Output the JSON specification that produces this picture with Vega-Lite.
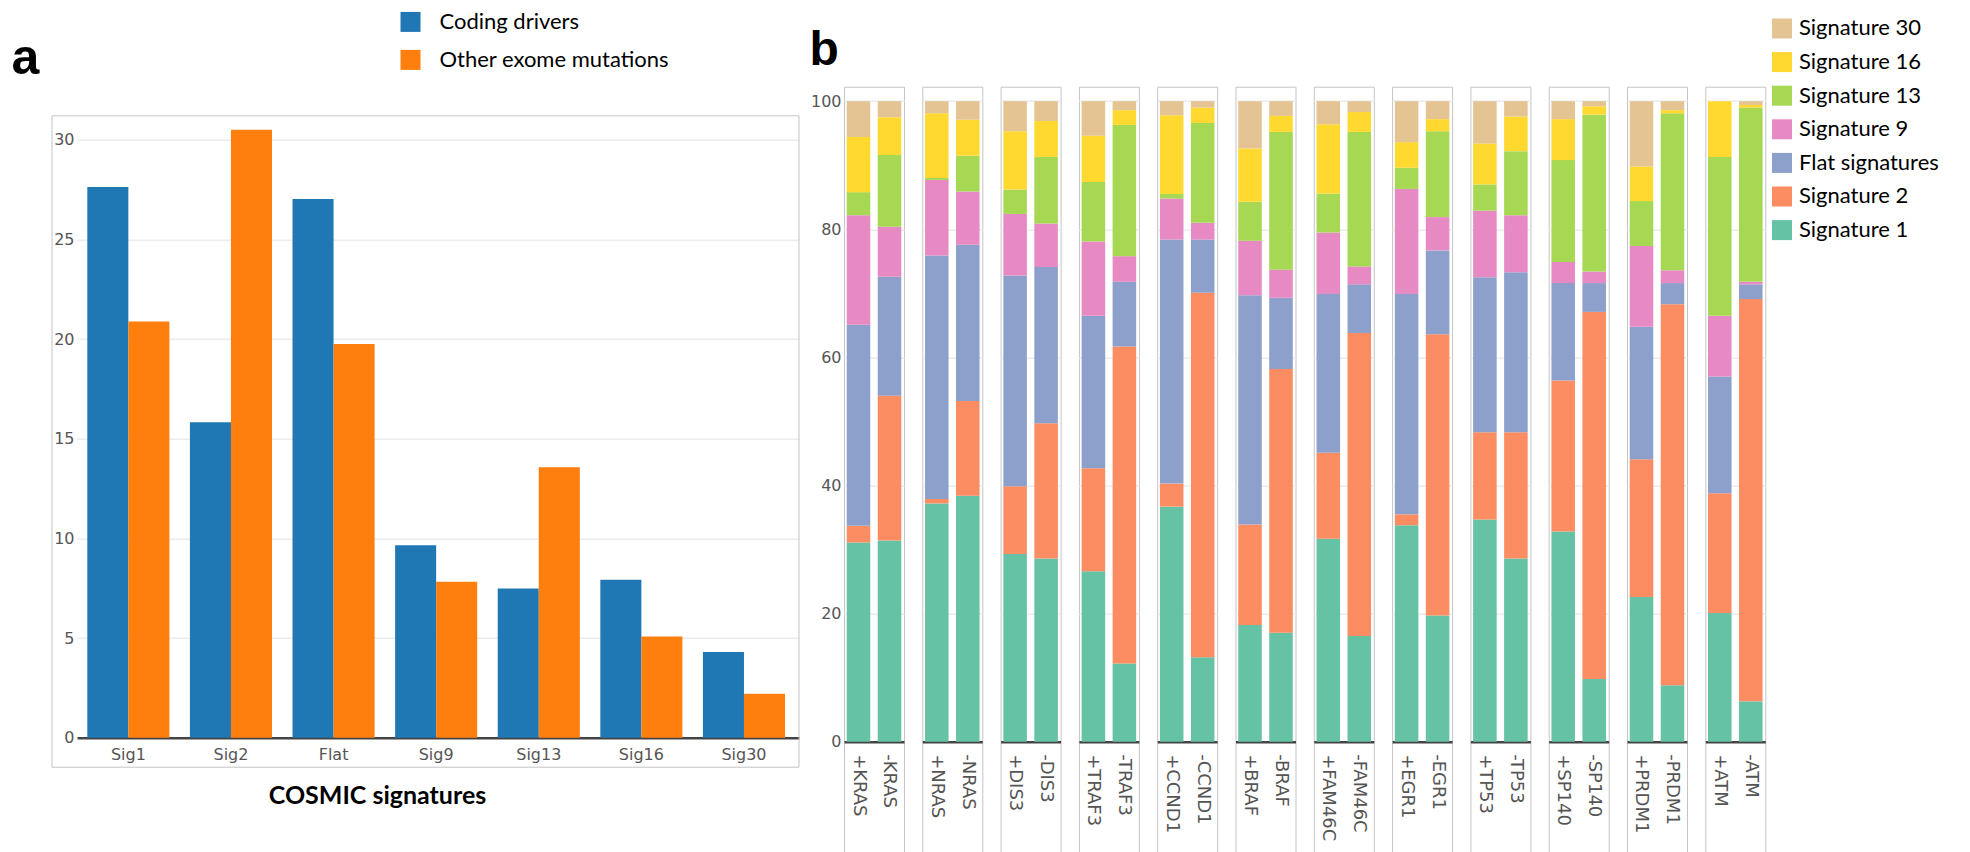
{
  "$schema": "https://vega.github.io/schema/vega-lite/v6.json",
  "background": "white",
  "padding": {"left": 11, "top": 10.7, "right": 0, "bottom": 0},
  "spacing": 9,
  "config": {
    "view": {"stroke": "#c4c4c4", "strokeWidth": 1},
    "axis": {"labelFont": "DejaVu Sans", "labelFontSize": 16, "labelColor": "#555", "gridColor": "#ececec", "gridWidth": 1.5},
    "legend": {"labelFont": "Lato", "labelFontSize": 22, "labelColor": "#000", "symbolType": "square", "symbolSize": 400, "symbolStrokeWidth": 0, "symbolOpacity": 1, "padding": 0, "labelLimit": 400}
  },
  "resolve": {"scale": {"color": "independent"}, "legend": {"color": "independent"}},
  "hconcat": [
    {
      "width": 747,
      "height": 680.5,
      "view": {"stroke": null},
      "layer": [
        {
          "data": {"values": [
            {"sig": "Sig1", "grp": "Coding drivers", "v": 27.63},
            {"sig": "Sig1", "grp": "Other exome mutations", "v": 20.88},
            {"sig": "Sig2", "grp": "Coding drivers", "v": 15.83},
            {"sig": "Sig2", "grp": "Other exome mutations", "v": 30.5},
            {"sig": "Flat", "grp": "Coding drivers", "v": 27.02},
            {"sig": "Flat", "grp": "Other exome mutations", "v": 19.75},
            {"sig": "Sig9", "grp": "Coding drivers", "v": 9.66},
            {"sig": "Sig9", "grp": "Other exome mutations", "v": 7.82},
            {"sig": "Sig13", "grp": "Coding drivers", "v": 7.49},
            {"sig": "Sig13", "grp": "Other exome mutations", "v": 13.57},
            {"sig": "Sig16", "grp": "Coding drivers", "v": 7.92},
            {"sig": "Sig16", "grp": "Other exome mutations", "v": 5.08},
            {"sig": "Sig30", "grp": "Coding drivers", "v": 4.30},
            {"sig": "Sig30", "grp": "Other exome mutations", "v": 2.21}
          ]},
          "mark": {"type": "bar"},
          "encoding": {
            "x": {
              "field": "sig", "type": "nominal",
              "sort": ["Sig1", "Sig2", "Flat", "Sig9", "Sig13", "Sig16", "Sig30"],
              "scale": {"range": [25, 747], "paddingInner": 0.2, "paddingOuter": 0.1184, "align": 0.424},
              "axis": {
                "title": "COSMIC signatures", "offset": -29.5, "labelAngle": 0, "ticks": false,
                "domainColor": "#444", "domainWidth": 2.5, "labelPadding": 9,
                "titleFont": "Lato", "titleFontSize": 25, "titleFontWeight": "bold", "titleColor": "#000",
                "titlePadding": 21, "titleX": 325, "titleAlign": "center"
              }
            },
            "xOffset": {"field": "grp", "type": "nominal", "sort": ["Coding drivers", "Other exome mutations"], "scale": {"paddingInner": 0, "paddingOuter": 0}},
            "y": {
              "field": "v", "type": "quantitative",
              "scale": {"domain": [-1.48, 32.66], "nice": false, "zero": true},
              "axis": {
                "values": [0, 5, 10, 15, 20, 25, 30], "offset": -24, "domain": false, "ticks": false,
                "labelPadding": 2, "grid": true,
                "title": "a", "titleAngle": 0, "titleX": -65, "titleY": -13.5, "titleAlign": "left",
                "titleBaseline": "alphabetic", "titleFont": "Liberation Sans", "titleFontSize": 50,
                "titleFontWeight": "bold", "titleColor": "#000"
              }
            },
            "color": {
              "field": "grp", "type": "nominal",
              "scale": {"domain": ["Coding drivers", "Other exome mutations"], "range": ["#1f77b4", "#ff7f0e"]},
              "legend": {"title": null, "orient": "none", "legendX": 347.5, "legendY": -75.8, "labelOffset": 18, "rowPadding": 16}
            }
          }
        },
        {
          "data": {"values": [{}]},
          "mark": {"type": "rect", "filled": false, "color": "#c4c4c4", "strokeWidth": 1},
          "encoding": {
            "y": {"datum": 31.2, "type": "quantitative"},
            "y2": {"datum": -1.48}
          }
        }
      ]
    },
    {
      "data": {"values": [
        {"gene": "KRAS", "cond": "+KRAS", "Signature 1": 31.1, "Signature 2": 2.6, "Flat signatures": 31.4, "Signature 9": 17.1, "Signature 13": 3.6, "Signature 16": 8.6, "Signature 30": 5.6},
        {"gene": "KRAS", "cond": "-KRAS", "Signature 1": 31.4, "Signature 2": 22.6, "Flat signatures": 18.6, "Signature 9": 7.8, "Signature 13": 11.2, "Signature 16": 5.9, "Signature 30": 2.5},
        {"gene": "NRAS", "cond": "+NRAS", "Signature 1": 37.2, "Signature 2": 0.7, "Flat signatures": 38.0, "Signature 9": 11.8, "Signature 13": 0.3, "Signature 16": 10.1, "Signature 30": 1.9},
        {"gene": "NRAS", "cond": "-NRAS", "Signature 1": 38.4, "Signature 2": 14.8, "Flat signatures": 24.4, "Signature 9": 8.3, "Signature 13": 5.6, "Signature 16": 5.6, "Signature 30": 2.9},
        {"gene": "DIS3", "cond": "+DIS3", "Signature 1": 29.3, "Signature 2": 10.6, "Flat signatures": 32.9, "Signature 9": 9.6, "Signature 13": 3.8, "Signature 16": 9.1, "Signature 30": 4.7},
        {"gene": "DIS3", "cond": "-DIS3", "Signature 1": 28.6, "Signature 2": 21.1, "Flat signatures": 24.4, "Signature 9": 6.8, "Signature 13": 10.4, "Signature 16": 5.6, "Signature 30": 3.1},
        {"gene": "TRAF3", "cond": "+TRAF3", "Signature 1": 26.6, "Signature 2": 16.1, "Flat signatures": 23.8, "Signature 9": 11.6, "Signature 13": 9.3, "Signature 16": 7.2, "Signature 30": 5.4},
        {"gene": "TRAF3", "cond": "-TRAF3", "Signature 1": 12.2, "Signature 2": 49.5, "Flat signatures": 10.1, "Signature 9": 4.0, "Signature 13": 20.5, "Signature 16": 2.3, "Signature 30": 1.4},
        {"gene": "CCND1", "cond": "+CCND1", "Signature 1": 36.7, "Signature 2": 3.6, "Flat signatures": 38.1, "Signature 9": 6.4, "Signature 13": 0.7, "Signature 16": 12.3, "Signature 30": 2.2},
        {"gene": "CCND1", "cond": "-CCND1", "Signature 1": 13.2, "Signature 2": 56.9, "Flat signatures": 8.3, "Signature 9": 2.6, "Signature 13": 15.6, "Signature 16": 2.4, "Signature 30": 1.0},
        {"gene": "BRAF", "cond": "+BRAF", "Signature 1": 18.2, "Signature 2": 15.7, "Flat signatures": 35.8, "Signature 9": 8.5, "Signature 13": 6.1, "Signature 16": 8.3, "Signature 30": 7.4},
        {"gene": "BRAF", "cond": "-BRAF", "Signature 1": 17.0, "Signature 2": 41.2, "Flat signatures": 11.1, "Signature 9": 4.4, "Signature 13": 21.5, "Signature 16": 2.5, "Signature 30": 2.3},
        {"gene": "FAM46C", "cond": "+FAM46C", "Signature 1": 31.7, "Signature 2": 13.4, "Flat signatures": 24.8, "Signature 9": 9.6, "Signature 13": 6.1, "Signature 16": 10.8, "Signature 30": 3.6},
        {"gene": "FAM46C", "cond": "-FAM46C", "Signature 1": 16.5, "Signature 2": 47.3, "Flat signatures": 7.6, "Signature 9": 2.8, "Signature 13": 21.0, "Signature 16": 3.1, "Signature 30": 1.7},
        {"gene": "EGR1", "cond": "+EGR1", "Signature 1": 33.8, "Signature 2": 1.7, "Flat signatures": 34.4, "Signature 9": 16.4, "Signature 13": 3.3, "Signature 16": 4.0, "Signature 30": 6.4},
        {"gene": "EGR1", "cond": "-EGR1", "Signature 1": 19.7, "Signature 2": 43.9, "Flat signatures": 13.1, "Signature 9": 5.2, "Signature 13": 13.4, "Signature 16": 1.9, "Signature 30": 2.8},
        {"gene": "TP53", "cond": "+TP53", "Signature 1": 34.7, "Signature 2": 13.6, "Flat signatures": 24.2, "Signature 9": 10.4, "Signature 13": 4.1, "Signature 16": 6.4, "Signature 30": 6.6},
        {"gene": "TP53", "cond": "-TP53", "Signature 1": 28.6, "Signature 2": 19.7, "Flat signatures": 25.0, "Signature 9": 8.9, "Signature 13": 10.0, "Signature 16": 5.4, "Signature 30": 2.4},
        {"gene": "SP140", "cond": "+SP140", "Signature 1": 32.8, "Signature 2": 23.6, "Flat signatures": 15.2, "Signature 9": 3.3, "Signature 13": 15.9, "Signature 16": 6.4, "Signature 30": 2.8},
        {"gene": "SP140", "cond": "-SP140", "Signature 1": 9.8, "Signature 2": 57.3, "Flat signatures": 4.5, "Signature 9": 1.8, "Signature 13": 24.5, "Signature 16": 1.3, "Signature 30": 0.8},
        {"gene": "PRDM1", "cond": "+PRDM1", "Signature 1": 22.6, "Signature 2": 21.5, "Flat signatures": 20.7, "Signature 9": 12.6, "Signature 13": 7.0, "Signature 16": 5.4, "Signature 30": 10.2},
        {"gene": "PRDM1", "cond": "-PRDM1", "Signature 1": 8.8, "Signature 2": 59.5, "Flat signatures": 3.3, "Signature 9": 2.0, "Signature 13": 24.5, "Signature 16": 0.5, "Signature 30": 1.4},
        {"gene": "ATM", "cond": "+ATM", "Signature 1": 20.1, "Signature 2": 18.7, "Flat signatures": 18.2, "Signature 9": 9.5, "Signature 13": 24.8, "Signature 16": 8.7, "Signature 30": 0.0},
        {"gene": "ATM", "cond": "-ATM", "Signature 1": 6.3, "Signature 2": 62.8, "Flat signatures": 2.3, "Signature 9": 0.4, "Signature 13": 27.2, "Signature 16": 0.4, "Signature 30": 0.6}
      ]},
      "transform": [
        {"fold": ["Signature 1", "Signature 2", "Flat signatures", "Signature 9", "Signature 13", "Signature 16", "Signature 30"], "as": ["sig", "v"]},
        {"calculate": "indexof(['Signature 1', 'Signature 2', 'Flat signatures', 'Signature 9', 'Signature 13', 'Signature 16', 'Signature 30'], datum.sig)", "as": "stackOrder"}
      ],
      "facet": {
        "column": {
          "field": "gene", "type": "nominal",
          "sort": ["KRAS", "NRAS", "DIS3", "TRAF3", "CCND1", "BRAF", "FAM46C", "EGR1", "TP53", "SP140", "PRDM1", "ATM"],
          "header": {"title": null, "labels": false, "labelPadding": 0, "titlePadding": 0}
        }
      },
      "spacing": {"column": 16.3},
      "resolve": {"scale": {"x": "independent"}, "axis": {"x": "independent"}},
      "spec": {
        "width": 60,
        "height": 765.5,
        "mark": {"type": "bar"},
        "encoding": {
          "x": {
            "field": "cond", "type": "nominal",
            "scale": {"paddingInner": 0.24, "paddingOuter": 0.088},
            "axis": {
              "title": null, "labelAngle": 90, "offset": -110.5, "ticks": false,
              "domainColor": "#444", "domainWidth": 2.5, "labelPadding": 12, "labelFontSize": 18
            }
          },
          "y": {
            "field": "v", "type": "quantitative", "stack": "zero",
            "scale": {"domain": [-17.25, 102.26], "nice": false},
            "axis": {
              "values": [0, 20, 40, 60, 80, 100], "domain": false, "ticks": false, "labelPadding": 2, "grid": true,
              "title": "b", "titleAngle": 0, "titleX": -34, "titleY": -22.5, "titleAlign": "left",
              "titleBaseline": "alphabetic", "titleFont": "Liberation Sans", "titleFontSize": 48,
              "titleFontWeight": "bold", "titleColor": "#000"
            }
          },
          "order": {"field": "stackOrder", "type": "quantitative", "sort": "ascending"},
          "color": {
            "field": "sig", "type": "nominal",
            "scale": {
              "domain": ["Signature 1", "Signature 2", "Flat signatures", "Signature 9", "Signature 13", "Signature 16", "Signature 30"],
              "range": ["#66c2a5", "#fc8d62", "#8da0cb", "#e78ac3", "#a6d854", "#ffd92f", "#e5c494"]
            },
            "legend": {
              "title": null, "orient": "none", "legendX": 927, "legendY": -69.2,
              "values": ["Signature 30", "Signature 16", "Signature 13", "Signature 9", "Flat signatures", "Signature 2", "Signature 1"],
              "labelOffset": 6, "rowPadding": 11.6
            }
          }
        }
      }
    }
  ]
}
